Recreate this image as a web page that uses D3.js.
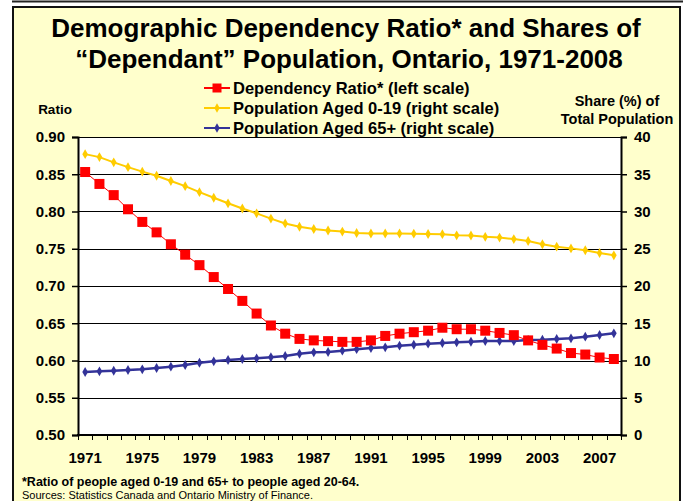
<!DOCTYPE html>
<html>
<head>
<meta charset="utf-8">
<script src="https://cdn.jsdelivr.net/npm/d3@7"></script>
<style>
  body { margin: 0; background: #fff; }
  svg text { font-family: "Liberation Sans", Arial, sans-serif; }
</style>
</head>
<body>
<div id="chart"></div>
<script>
const years = d3.range(1971, 2009);
const yearLabels = [1971, 1975, 1979, 1983, 1987, 1991, 1995, 1999, 2003, 2007];

// dependency ratio, left scale
const ratio = [0.853, 0.837, 0.822, 0.803, 0.786, 0.772, 0.756, 0.742, 0.728, 0.712,
  0.696, 0.680, 0.663, 0.647, 0.636, 0.629, 0.627, 0.626, 0.625, 0.625,
  0.627, 0.633, 0.636, 0.638, 0.640, 0.644, 0.642, 0.642, 0.640, 0.637,
  0.634, 0.627, 0.621, 0.616, 0.610, 0.608, 0.604, 0.602];

// share of population aged 0-19 (%), right scale
const aged0to19 = [37.7, 37.3, 36.6, 35.95, 35.35, 34.8, 34.1, 33.4, 32.6, 31.85,
  31.1, 30.4, 29.75, 29.05, 28.4, 27.95, 27.65, 27.45, 27.3, 27.12,
  27.05, 27.05, 27.05, 27.03, 26.98, 26.96, 26.8, 26.78, 26.6, 26.5,
  26.3, 26.04, 25.6, 25.28, 25.05, 24.8, 24.43, 24.12];

// share of population aged 65+ (%), right scale
const aged65plus = [8.46, 8.55, 8.63, 8.72, 8.81, 8.99, 9.17, 9.4, 9.7, 9.89,
  10.07, 10.2, 10.29, 10.43, 10.6, 10.91, 11.1, 11.14, 11.32, 11.52,
  11.68, 11.77, 11.99, 12.12, 12.26, 12.35, 12.44, 12.52, 12.62, 12.62,
  12.62, 12.75, 12.79, 12.89, 12.98, 13.2, 13.42, 13.65];

const leftTicks = [0.50, 0.55, 0.60, 0.65, 0.70, 0.75, 0.80, 0.85, 0.90];
const rightTicks = [0, 5, 10, 15, 20, 25, 30, 35, 40];

const width = 683, height = 501;
const plot = { left: 78, right: 621, top: 137, bottom: 435 };

const svg = d3.select('#chart')
  .append('svg')
  .attr('width', width)
  .attr('height', height);

// frame
svg.append('line')
  .attr('x1', 12).attr('x2', width).attr('y1', 1.5).attr('y2', 1.5)
  .style('stroke', '#222').style('stroke-width', 2);
svg.append('rect')
  .attr('x', 13).attr('y', 7).attr('width', 667).attr('height', 500)
  .style('fill', '#FFFFCC').style('stroke', '#111').style('stroke-width', 2);

// title
const title = svg.append('text')
  .attr('text-anchor', 'middle')
  .style('font-weight', 'bold').style('font-size', '26px');
title.append('tspan').attr('x', 346).attr('y', 37).text('Demographic Dependency Ratio* and Shares of');
title.append('tspan').attr('x', 349).attr('y', 68).text('\u201CDependant\u201D Population, Ontario, 1971-2008');

const x = d3.scaleBand().domain(years).range([plot.left, plot.right]).padding(0);
const cx = (d) => x(d) + x.bandwidth() / 2;
const yL = d3.scaleLinear().domain([0.5, 0.9]).range([plot.bottom, plot.top]);
const yR = d3.scaleLinear().domain([0, 40]).range([plot.bottom, plot.top]);

svg.append('rect')
  .attr('x', plot.left).attr('y', plot.top)
  .attr('width', plot.right - plot.left).attr('height', plot.bottom - plot.top)
  .style('fill', '#fff');

// gridlines
svg.append('g')
  .selectAll('line')
  .data(leftTicks.slice(1))
  .enter()
  .append('line')
  .attr('x1', plot.left).attr('x2', plot.right)
  .attr('y1', (d) => Math.round(yL(d)) + 0.5).attr('y2', (d) => Math.round(yL(d)) + 0.5)
  .style('stroke', '#000').style('stroke-width', 1);

// axes
const leftAxis = svg.append('g')
  .attr('transform', `translate(${plot.left},0)`)
  .call(d3.axisLeft(yL).tickValues(leftTicks).tickFormat(d3.format('.2f')).tickSize(6).tickPadding(7));
const rightAxis = svg.append('g')
  .attr('transform', `translate(${plot.right},0)`)
  .call(d3.axisRight(yR).tickValues(rightTicks).tickSize(6).tickPadding(7));

[leftAxis, rightAxis].forEach((g) => {
  g.select('.domain').style('stroke', '#000').style('stroke-width', 2);
  g.selectAll('.tick line').style('stroke', '#000').style('stroke-width', 1.5);
  g.selectAll('.tick text')
    .style('font-size', '15px').style('font-weight', 'bold')
    .style('font-family', '"Liberation Sans", Arial, sans-serif').style('fill', '#000');
});

// x axis
const xAxis = svg.append('g');
xAxis.append('line')
  .attr('x1', plot.left - 1).attr('x2', plot.right + 1)
  .attr('y1', plot.bottom).attr('y2', plot.bottom)
  .style('stroke', '#000').style('stroke-width', 2);
xAxis.selectAll('.xtick')
  .data(years.concat([null]))
  .enter()
  .append('line')
  .attr('class', 'xtick')
  .attr('x1', (d) => Math.round(d === null ? plot.right : x(d)) + 0.5)
  .attr('x2', (d) => Math.round(d === null ? plot.right : x(d)) + 0.5)
  .attr('y1', plot.bottom).attr('y2', plot.bottom + 5)
  .style('stroke', '#000').style('stroke-width', 1);
xAxis.selectAll('.xlabel')
  .data(yearLabels)
  .enter()
  .append('text')
  .attr('class', 'xlabel')
  .attr('x', cx).attr('y', 463)
  .attr('text-anchor', 'middle')
  .style('font-size', '15px').style('font-weight', 'bold')
  .text((d) => d);

// axis titles
svg.append('text')
  .attr('x', 55).attr('y', 114).attr('text-anchor', 'middle')
  .style('font-size', '13.5px').style('font-weight', 'bold')
  .text('Ratio');
svg.append('text')
  .attr('x', 617).attr('y', 106).attr('text-anchor', 'middle')
  .style('font-size', '14.5px').style('font-weight', 'bold')
  .text('Share (%) of');
svg.append('text')
  .attr('x', 617).attr('y', 124).attr('text-anchor', 'middle')
  .style('font-size', '14.5px').style('font-weight', 'bold')
  .text('Total Population');

// series
const diamond = d3.symbol().type(d3.symbolDiamond);

function drawSeries(values, yScale, color, lineWidth, marker) {
  const pts = years.map((yr, i) => ({ yr: yr, v: values[i] }));
  const line = d3.line().x((d) => cx(d.yr)).y((d) => yScale(d.v));
  svg.append('path')
    .datum(pts)
    .attr('d', line)
    .style('fill', 'none')
    .style('stroke', color)
    .style('stroke-width', lineWidth);
  if (marker === 'square') {
    svg.append('g').selectAll('rect')
      .data(pts).enter()
      .append('rect')
      .attr('x', (d) => cx(d.yr) - 5).attr('y', (d) => yScale(d.v) - 5)
      .attr('width', 10).attr('height', 10)
      .style('fill', color);
  } else {
    svg.append('g').selectAll('path')
      .data(pts).enter()
      .append('path')
      .attr('d', diamond.size(28))
      .attr('transform', (d) => `translate(${cx(d.yr)},${yScale(d.v)})`)
      .style('fill', color);
  }
}

drawSeries(aged0to19, yR, '#FFCC00', 2, 'diamond');
drawSeries(aged65plus, yR, '#333399', 2.5, 'diamond');
drawSeries(ratio, yL, '#FF0000', 1, 'square');

// legend
const legendItems = [
  { label: 'Dependency Ratio* (left scale)', color: '#FF0000', marker: 'square', y: 88 },
  { label: 'Population Aged 0-19 (right scale)', color: '#FFCC00', marker: 'diamond', y: 108 },
  { label: 'Population Aged 65+ (right scale)', color: '#333399', marker: 'diamond', y: 128 },
];
const legend = svg.append('g');
legendItems.forEach((it) => {
  legend.append('line')
    .attr('x1', 204).attr('x2', 230).attr('y1', it.y).attr('y2', it.y)
    .style('stroke', it.color).style('stroke-width', 2);
  if (it.marker === 'square') {
    legend.append('rect')
      .attr('x', 212.5).attr('y', it.y - 4.5).attr('width', 9).attr('height', 9)
      .style('fill', it.color);
  } else {
    legend.append('path')
      .attr('d', diamond.size(26))
      .attr('transform', `translate(217,${it.y})`)
      .style('fill', it.color);
  }
  legend.append('text')
    .attr('x', 233).attr('y', it.y + 6)
    .style('font-size', '16.5px').style('font-weight', 'bold')
    .text(it.label);
});

// footnotes
svg.append('text')
  .attr('x', 22).attr('y', 486)
  .style('font-size', '12.5px').style('font-weight', 'bold')
  .text('*Ratio of people aged 0-19 and 65+ to people aged 20-64.');
svg.append('text')
  .attr('x', 22).attr('y', 499)
  .style('font-size', '11px')
  .text('Sources: Statistics Canada and Ontario Ministry of Finance.');
</script>
</body>
</html>
